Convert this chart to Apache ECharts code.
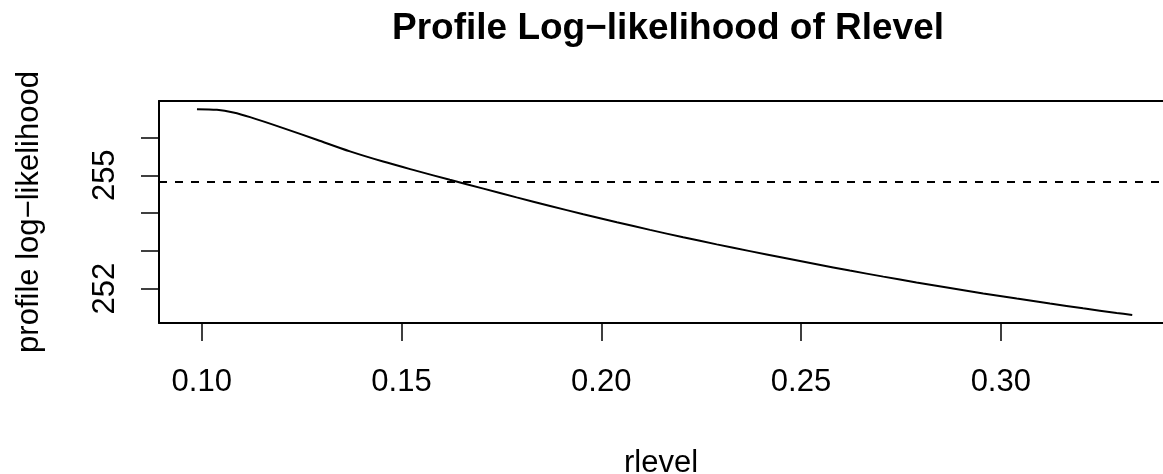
<!DOCTYPE html>
<html>
<head>
<meta charset="utf-8">
<script src="https://cdn.jsdelivr.net/npm/echarts@6/dist/echarts.min.js"></script>
<style>
html, body { margin: 0; padding: 0; background: #fff; }
#container { width: 1163px; height: 474px; }
</style>
</head>
<body>
<div id="container"></div>
<script>
// profile curve
var rlevel = [0.0988, 0.1038, 0.1079, 0.1121, 0.1204, 0.1288, 0.1371, 0.1454, 0.1538, 0.1621,
  0.1705, 0.1788, 0.1872, 0.1955, 0.2039, 0.2122, 0.2205, 0.2289, 0.2372, 0.2456,
  0.2539, 0.2622, 0.2706, 0.2789, 0.2873, 0.2956, 0.3040, 0.3123, 0.3206, 0.3290, 0.3329];
var loglik = [256.749, 256.731, 256.660, 256.538, 256.248, 255.939, 255.631, 255.362, 255.116, 254.879,
  254.646, 254.414, 254.187, 253.968, 253.757, 253.554, 253.359, 253.171, 252.992, 252.815,
  252.644, 252.478, 252.317, 252.164, 252.016, 251.873, 251.736, 251.604, 251.478, 251.356, 251.301];
// horizontal dashed cut-off
var cutoff = 254.84;
// ticks
var xTicks = [0.10, 0.15, 0.20, 0.25, 0.30];
var yTicks = [252, 253, 254, 255, 256];
var yLabels = [252, 255];

var pts = rlevel.map(function (x, i) { return [x, loglik[i]]; });

var font = 'Liberation Sans, Arial, sans-serif';
var frame = { show: true, lineStyle: { color: '#000', width: 2 } };
var dom = document.getElementById('container');
var myChart = echarts.init(dom, null, { renderer: 'canvas' });

// the plot box runs past the right edge of the picture, so only left/top/bottom are drawn
myChart.setOption({
  animation: false,
  title: {
    text: 'Profile Log\u2212likelihood of Rlevel',
    left: 663,
    textAlign: 'center',
    top: 5,
    textStyle: { fontFamily: font, fontSize: 37, fontWeight: 'bold', color: '#000' }
  },
  grid: {
    left: 159, top: 101, right: 0, height: 222,
    outerBoundsMode: 'none',
    containLabel: false,
    show: false
  },
  xAxis: [{
    type: 'value',
    position: 'bottom',
    min: 0.0893, max: 0.3406,
    name: 'rlevel',
    nameLocation: 'middle',
    nameGap: 125,
    nameTextStyle: { fontFamily: font, fontSize: 31, color: '#000' },
    axisLine: frame,
    splitLine: { show: false },
    axisTick: { show: true, length: 18, inside: false, customValues: xTicks,
      lineStyle: { color: '#000', width: 1.5 } },
    axisLabel: { customValues: xTicks, margin: 44, fontFamily: font, fontSize: 31, color: '#000',
      formatter: function (v) { return v.toFixed(2); } }
  }, {
    type: 'value',
    position: 'top',
    min: 0.0893, max: 0.3406,
    axisLine: frame,
    splitLine: { show: false },
    axisTick: { show: false },
    axisLabel: { show: false }
  }],
  yAxis: {
    type: 'value',
    min: 251.09, max: 256.965,
    name: 'profile log\u2212likelihood',
    nameLocation: 'middle',
    nameRotate: 90,
    nameGap: 114,
    nameTextStyle: { fontFamily: font, fontSize: 31, color: '#000' },
    axisLine: frame,
    splitLine: { show: false },
    axisTick: { show: true, length: 18, inside: false, customValues: yTicks,
      lineStyle: { color: '#000', width: 1.5 } },
    axisLabel: { customValues: yLabels, rotate: 90, margin: 38, fontFamily: font, fontSize: 31, color: '#000' }
  },
  series: [{
    type: 'line',
    xAxisIndex: 0,
    data: pts,
    showSymbol: false,
    smooth: 0.3,
    lineStyle: { color: '#000', width: 2 },
    markLine: {
      silent: true,
      symbol: 'none',
      label: { show: false },
      lineStyle: { color: '#000', width: 2, type: [8, 8] },
      data: [{ yAxis: cutoff }]
    }
  }]
});
</script>
</body>
</html>
